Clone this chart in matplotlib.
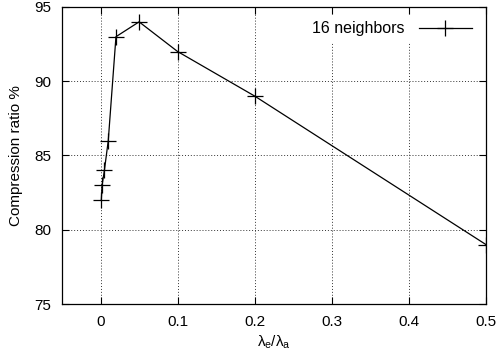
import numpy as np
import matplotlib
matplotlib.use("Agg")
import matplotlib.pyplot as plt

plt.rcParams['font.family'] = ['Liberation Sans', 'DejaVu Sans']
plt.rcParams['mathtext.fontset'] = 'custom'
plt.rcParams['mathtext.rm'] = 'Liberation Sans'
plt.rcParams['mathtext.it'] = 'Liberation Sans'

# data
ratio = [0.001, 0.002, 0.005, 0.01, 0.02, 0.05, 0.1, 0.2, 0.5]
compression = [82, 83, 84, 86, 93, 94, 92, 89, 79]
xticks = [0, 0.1, 0.2, 0.3, 0.4, 0.5]
yticks = [75, 80, 85, 90, 95]

fig = plt.figure(figsize=(4.98, 3.58), dpi=100)
ax = fig.add_axes([62 / 498, 1 - 304 / 358, (486 - 62) / 498, (304 - 7) / 358])

ax.plot(ratio, compression, color='black', lw=0.9, marker='+', ms=11,
        mew=0.9, label='16 neighbors')

ax.set_xlim(-0.05, 0.5)
ax.set_ylim(75, 95)
ax.set_xticks(xticks)
ax.set_xticklabels(['0', '0.1', '0.2', '0.3', '0.4', '0.5'])
ax.set_yticks(yticks)
ax.grid(True, color='#333333', linestyle=(0, (1, 2)), linewidth=0.7)
ax.tick_params(direction='in', top=True, right=True, length=5, width=0.8,
               labelsize=11, pad=8)
for s in ax.spines.values():
    s.set_linewidth(0.9)

ax.set_xlabel(r'$\lambda_e/\lambda_a$', fontsize=11, labelpad=3)
ax.set_ylabel('Compression ratio %', fontsize=11, labelpad=8)

leg = ax.legend(loc='upper right', frameon=True, fontsize=11.5, markerfirst=False,
                handlelength=3.3, borderaxespad=0.5, handletextpad=0.9)
leg.get_frame().set_edgecolor('none')
leg.get_frame().set_facecolor('white')
leg.get_frame().set_alpha(1)
leg.get_frame().set_boxstyle('square', pad=0)

fig.savefig('out.png', dpi=100)
